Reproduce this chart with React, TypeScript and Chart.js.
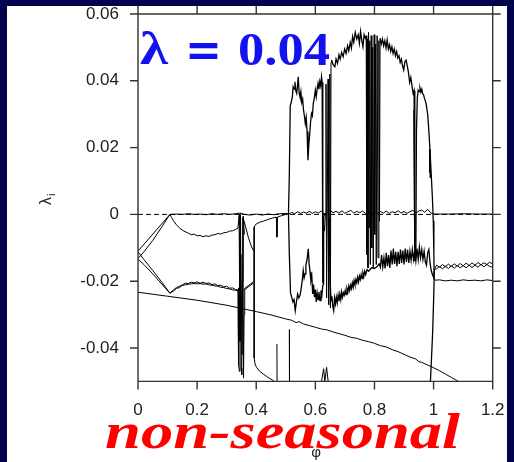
import React, { useEffect, useRef } from "react";
import { Chart, registerables } from "chart.js";

Chart.register(...registerables);

type Pt = [number, number];

// ---- axes ----
const xTicks = [0, 0.2, 0.4, 0.6, 0.8, 1.0, 1.2];
const xTickLabels = ["0", "0.2", "0.4", "0.6", "0.8", "1", "1.2"];
const yTicks = [-0.04, -0.02, 0, 0.02, 0.04, 0.06];
const yTickLabels = ["-0.04", "-0.02", "0", "0.02", "0.04", "0.06"];
const xRange = [0, 1.2];
const yRange = [-0.05, 0.06];

const titleText = "λ = 0.04";
const subtitleText = "non-seasonal";

// ---- series (phi, lambda_i) ----
const zeroRef: Pt[] = [[0, 0], [1.2, 0]];

const decayBranch: Pt[] = [
  [0, -0.0233], [0.1, -0.0245], [0.2, -0.0257], [0.3, -0.0272], [0.4, -0.0291], [0.45, -0.0301],
  [0.5, -0.0313], [0.52, -0.0317], [0.535, -0.0324], [0.545, -0.0321], [0.56, -0.0328], [0.58, -0.0333],
  [0.6, -0.0338], [0.62, -0.0343], [0.64, -0.0346], [0.66, -0.0352], [0.68, -0.0357], [0.7, -0.0362],
  [0.72, -0.0368], [0.74, -0.0371], [0.76, -0.0377], [0.78, -0.0381], [0.8, -0.0386], [0.82, -0.0393],
  [0.84, -0.0397], [0.86, -0.0405], [0.88, -0.0411], [0.9, -0.0419], [0.92, -0.0427], [0.94, -0.0433],
  [0.95, -0.0441], [0.96, -0.0443], [0.98, -0.0451], [1.0, -0.0459], [1.02, -0.0468], [1.04, -0.0478],
  [1.06, -0.0488], [1.08, -0.0498], [1.09, -0.0503],
];

const upperA: Pt[] = [[0, -0.0110], [0.108, 0]];
const upperB: Pt[] = [[0, -0.0132], [0.02, -0.0112], [0.05, -0.0078], [0.08, -0.0038], [0.108, 0]];
const lowerA: Pt[] = [[0, -0.0112], [0.02, -0.0135], [0.05, -0.0168], [0.08, -0.0202], [0.108, -0.0236]];
const lowerB: Pt[] = [[0, -0.0134], [0.02, -0.0150], [0.05, -0.0178], [0.08, -0.0208], [0.108, -0.0236]];

const dipBranch: Pt[] = [
  [0.108, 0], [0.114, -0.001], [0.12, -0.0019], [0.13, -0.0031], [0.142, -0.0042], [0.155, -0.005],
  [0.17, -0.0056], [0.18, -0.0061], [0.19, -0.0059], [0.2, -0.0064], [0.21, -0.0063], [0.22, -0.0067],
  [0.23, -0.0064], [0.24, -0.0066], [0.25, -0.0062], [0.26, -0.0061], [0.27, -0.0057], [0.28, -0.0059],
  [0.29, -0.0055], [0.3, -0.0054], [0.31, -0.005], [0.32, -0.0049], [0.33, -0.0045], [0.338, -0.0042],
  [0.342, -0.0005], [0.346, 0.0002],
];

const pairLowC: Pt[] = [
  [0.108, -0.0236], [0.12, -0.0226], [0.13, -0.0219], [0.14, -0.0215], [0.15, -0.0211], [0.16, -0.0206],
  [0.17, -0.0207], [0.18, -0.0203], [0.19, -0.0205], [0.2, -0.0202], [0.21, -0.0206], [0.22, -0.0203],
  [0.23, -0.0207], [0.24, -0.0205], [0.25, -0.021], [0.26, -0.0208], [0.27, -0.0213], [0.28, -0.0212],
  [0.29, -0.0217], [0.3, -0.0215], [0.31, -0.0221], [0.32, -0.022], [0.33, -0.0225], [0.339, -0.0226],
];
const pairLowD: Pt[] = [
  [0.108, -0.0236], [0.12, -0.0229], [0.13, -0.0222], [0.14, -0.0219], [0.15, -0.0213], [0.16, -0.0211],
  [0.17, -0.0209], [0.18, -0.0208], [0.19, -0.0207], [0.2, -0.0208], [0.21, -0.0207], [0.22, -0.0209],
  [0.23, -0.0208], [0.24, -0.0211], [0.25, -0.0212], [0.26, -0.0214], [0.27, -0.0215], [0.28, -0.0218],
  [0.29, -0.0219], [0.3, -0.0222], [0.31, -0.0223], [0.32, -0.0226], [0.33, -0.0227], [0.339, -0.0229],
];
const pairLowTailC: Pt[] = [[0.36, -0.0222], [0.375, -0.0212], [0.39, -0.0202]];
const pairLowTailD: Pt[] = [[0.36, -0.0226], [0.375, -0.0216], [0.39, -0.0206]];

const nearZero: Pt[] = [
  [0.108, 0], [0.13, 0.0001], [0.15, 0], [0.17, 0.0002], [0.19, 0], [0.21, 0.0001], [0.23, -0.0001],
  [0.25, 0.0002], [0.27, 0], [0.29, 0.0002], [0.31, 0], [0.33, 0.0002], [0.345, 0.0004], [0.36, 0],
  [0.38, -0.0002], [0.4, 0.0001], [0.42, -0.0002], [0.44, 0.0001], [0.46, -0.0001], [0.48, 0.0002],
  [0.5, 0.0003], [0.51, 0.0001], [0.52, 0.0006], [0.53, 0.0002], [0.54, 0.0008], [0.55, 0.0003],
  [0.56, 0.0007], [0.57, 0.0004], [0.58, 0.0009], [0.59, 0.0003], [0.6, 0.0008], [0.61, 0.0004],
  [0.62, 0.001], [0.63, 0.0002], [0.64, 0.0006], [0.65, 0.0012], [0.66, 0.0005], [0.67, 0.0009],
  [0.68, 0.0004], [0.69, 0.0011], [0.7, 0.0003], [0.71, 0.0008], [0.72, 0.0012], [0.73, 0.0004],
  [0.74, 0.0009], [0.75, 0.0005], [0.76, 0.001], [0.77, 0.0003], [0.78, 0.0006], [0.79, 0.0002],
  [0.8, 0.0007], [0.81, 0.0003], [0.82, 0.0009], [0.83, 0.0004], [0.84, 0.001], [0.85, 0.0003],
  [0.86, 0.0008], [0.87, 0.0005], [0.88, 0.0011], [0.89, 0.0004], [0.9, 0.0009], [0.91, 0.0003],
  [0.92, 0.0008], [0.93, 0.0012], [0.94, 0.0004], [0.95, 0.001], [0.96, 0.0013], [0.97, 0.0006],
  [0.98, 0.0015], [0.99, 0.0005], [1.0, 0.0001], [1.05, 0.0001], [1.1, 0.0002], [1.15, 0.0001], [1.2, 0.0001],
];

const spikeBundle1: Pt[] = [
  [0.338, -0.0226], [0.339, -0.035], [0.3395, -0.022], [0.341, -0.045], [0.343, -0.047], [0.345, -0.002],
  [0.347, 0], [0.349, -0.046], [0.351, -0.048], [0.353, -0.02], [0.355, -0.001], [0.357, -0.049],
  [0.359, -0.03], [0.361, -0.0222],
];
const spikeBundle2: Pt[] = [[0.342, 0], [0.345, -0.038], [0.348, -0.012], [0.352, -0.042], [0.356, -0.0005], [0.36, -0.006]];

const fallingBranch: Pt[] = [[0.356, -0.0012], [0.365, -0.004], [0.373, -0.0068], [0.382, -0.0092], [0.39, -0.0108]];

const dropCurve: Pt[] = [
  [0.393, -0.0038], [0.393, -0.043], [0.396, -0.0448], [0.401, -0.0458], [0.412, -0.047], [0.424, -0.0478],
  [0.44, -0.0488], [0.455, -0.0496], [0.466, -0.0503],
];

const riseToZero: Pt[] = [
  [0.393, -0.0038], [0.398, -0.003], [0.41, -0.0024], [0.425, -0.002], [0.44, -0.0015], [0.455, -0.0011],
  [0.468, -0.0008], [0.47, -0.0068], [0.472, -0.0008], [0.485, -0.0004], [0.5, 0], [0.51, 0.0003],
];

const spikeA: Pt[] = [[0.47, -0.0388], [0.4705, -0.0505]];
const spikeB: Pt[] = [[0.512, -0.0345], [0.5125, -0.0505]];
const bottomM: Pt[] = [[0.62, -0.0505], [0.628, -0.0462], [0.632, -0.05], [0.638, -0.0458], [0.644, -0.0505]];

const humpOne: Pt[] = [
  [0.509, 0.0003], [0.512, 0.012], [0.515, 0.0325], [0.519, 0.0338], [0.522, 0.0352], [0.525, 0.0382],
  [0.528, 0.0375], [0.531, 0.0397], [0.534, 0.037], [0.537, 0.0362], [0.54, 0.0388], [0.542, 0.0412],
  [0.545, 0.0365], [0.548, 0.0352], [0.551, 0.0368], [0.554, 0.0335], [0.557, 0.0345], [0.56, 0.0312],
  [0.563, 0.0295], [0.566, 0.0272], [0.569, 0.029], [0.572, 0.0248], [0.575, 0.0162], [0.578, 0.021],
  [0.581, 0.0242], [0.584, 0.0278], [0.587, 0.0302], [0.59, 0.0295], [0.593, 0.0332], [0.596, 0.0345],
  [0.6, 0.0372], [0.603, 0.0352], [0.606, 0.0375], [0.609, 0.0392], [0.612, 0.0375], [0.615, 0.0398],
  [0.618, 0.0385], [0.621, 0.0412], [0.623, 0.0395], [0.625, 0.0388], [0.6255, -0.0205],
];

const lowerOne: Pt[] = [
  [0.509, 0.0002], [0.512, -0.012], [0.516, -0.0235], [0.52, -0.0248], [0.524, -0.0262], [0.528, -0.0255],
  [0.532, -0.0288], [0.536, -0.0262], [0.54, -0.0238], [0.544, -0.025], [0.548, -0.0243], [0.552, -0.0222],
  [0.556, -0.0195], [0.559, -0.0168], [0.562, -0.019], [0.565, -0.0178], [0.568, -0.0152], [0.572, -0.0135],
  [0.576, -0.0103], [0.579, -0.0148], [0.582, -0.0172], [0.585, -0.0198], [0.588, -0.0185], [0.591, -0.0238],
  [0.594, -0.021], [0.597, -0.0248], [0.6, -0.0225], [0.603, -0.0262], [0.606, -0.0235], [0.609, -0.0255],
  [0.612, -0.0232], [0.616, -0.0258], [0.619, -0.0228], [0.622, -0.0242], [0.625, -0.0215], [0.627, -0.0208],
  [0.628, -0.001], [0.631, 0.0003],
];

const clusterTwo: Pt[] = [
  [0.6255, -0.0205], [0.628, -0.003], [0.631, -0.005], [0.634, 0], [0.636, 0.039], [0.638, -0.025],
  [0.64, -0.004], [0.643, 0.0405], [0.645, -0.027], [0.647, -0.002], [0.649, 0.042], [0.651, -0.028],
  [0.653, 0.0455], [0.655, 0.0462],
];

const humpTwo: Pt[] = [
  [0.655, 0.0462], [0.66, 0.0448], [0.666, 0.0442], [0.67, 0.0465], [0.675, 0.0452], [0.68, 0.0478],
  [0.684, 0.0465], [0.689, 0.0485], [0.694, 0.0472], [0.699, 0.0495], [0.704, 0.0482], [0.709, 0.0505],
  [0.713, 0.049], [0.718, 0.0515], [0.722, 0.0498], [0.726, 0.0532], [0.73, 0.0515], [0.735, 0.0545],
  [0.74, 0.0525], [0.745, 0.0538], [0.749, 0.0512], [0.753, 0.0548], [0.757, 0.0522], [0.761, 0.0502],
  [0.765, 0.0538], [0.769, 0.0528], [0.772, 0.0535],
];

const bundle: Pt[] = [
  [0.772, 0.0535], [0.774, -0.012], [0.776, 0.0525], [0.778, -0.016], [0.78, 0.0545], [0.782, -0.004],
  [0.784, 0.052], [0.786, -0.015], [0.789, 0.0535], [0.791, -0.01], [0.794, 0.05], [0.796, -0.016],
  [0.799, 0.0538], [0.801, -0.006], [0.804, 0.051], [0.806, -0.015], [0.809, 0.0535], [0.812, -0.013],
  [0.815, 0.052], [0.817, -0.002], [0.819, 0.0527],
];

const humpThree: Pt[] = [
  [0.819, 0.0527], [0.823, 0.051], [0.827, 0.0525], [0.831, 0.0505], [0.835, 0.052], [0.839, 0.0498],
  [0.843, 0.0522], [0.847, 0.0495], [0.851, 0.0508], [0.855, 0.0488], [0.859, 0.0502], [0.863, 0.0482],
  [0.867, 0.0495], [0.871, 0.0475], [0.875, 0.0488], [0.879, 0.0468], [0.883, 0.0475], [0.887, 0.0455],
  [0.891, 0.0465], [0.895, 0.0445], [0.899, 0.0432], [0.903, 0.0458], [0.907, 0.0462], [0.911, 0.0445],
  [0.915, 0.0425], [0.919, 0.0395], [0.923, 0.041], [0.927, 0.0385], [0.931, 0.0362], [0.934, 0.037],
  [0.936, 0.033], [0.937, -0.011],
];

const humpRight: Pt[] = [
  [0.937, -0.011], [0.94, -0.013], [0.942, 0.025], [0.945, 0.035], [0.948, 0.0372], [0.951, 0.0368],
  [0.954, 0.0378], [0.957, 0.0366], [0.96, 0.0375], [0.963, 0.0362], [0.966, 0.0358], [0.969, 0.0348],
  [0.972, 0.034], [0.975, 0.033], [0.98, 0.03], [0.984, 0.025], [0.988, 0.019], [0.992, 0.012],
  [0.996, 0.005], [0.999, -0.002], [1.001, -0.012], [1.002, -0.019], [1.0, -0.026], [0.997, -0.035],
  [0.993, -0.043], [0.989, -0.0505],
];
const spikeR: Pt[] = [[0.987, 0.0195], [0.9875, 0.0125], [0.988, 0.018], [0.989, 0.011]];
const thinR: Pt[] = [[0.933, 0.0312], [0.935, 0], [0.937, -0.014]];

const lowerTwo: Pt[] = [
  [0.647, -0.001], [0.65, -0.02], [0.653, -0.0258], [0.656, -0.0245], [0.659, -0.0275], [0.662, -0.0288],
  [0.665, -0.025], [0.668, -0.0268], [0.671, -0.0248], [0.674, -0.0265], [0.677, -0.0242], [0.68, -0.026],
  [0.683, -0.0238], [0.686, -0.0255], [0.689, -0.0232], [0.692, -0.0248], [0.695, -0.0235], [0.698, -0.0242],
  [0.701, -0.0228], [0.704, -0.024], [0.707, -0.0222], [0.71, -0.0232], [0.713, -0.0215], [0.716, -0.0228],
  [0.719, -0.0212], [0.722, -0.0222], [0.725, -0.0205], [0.728, -0.0218], [0.731, -0.0198], [0.734, -0.021],
  [0.737, -0.0195], [0.74, -0.0205], [0.743, -0.0188], [0.746, -0.0202], [0.749, -0.0185], [0.752, -0.0195],
  [0.755, -0.018], [0.758, -0.0192], [0.761, -0.0175], [0.764, -0.0185], [0.767, -0.017], [0.77, -0.018],
  [0.775, -0.0165], [0.78, -0.017], [0.79, -0.016], [0.8, -0.0162], [0.81, -0.0155], [0.816, -0.0148],
  [0.82, -0.0158], [0.824, -0.0122], [0.828, -0.0158], [0.832, -0.013], [0.836, -0.0162], [0.84, -0.0115],
  [0.844, -0.0155], [0.848, -0.0122], [0.852, -0.016], [0.856, -0.0108], [0.86, -0.015], [0.864, -0.0102],
  [0.868, -0.0148], [0.872, -0.0112], [0.876, -0.0155], [0.88, -0.0112], [0.884, -0.0148], [0.888, -0.0105],
  [0.892, -0.0145], [0.896, -0.0108], [0.9, -0.015], [0.904, -0.0102], [0.908, -0.0142], [0.912, -0.0105],
  [0.916, -0.0145], [0.92, -0.011], [0.924, -0.0138], [0.928, -0.0105], [0.932, -0.0135], [0.936, -0.011],
  [0.94, -0.014], [0.944, -0.0102], [0.948, -0.0135], [0.952, -0.0098], [0.956, -0.013], [0.96, -0.0105],
  [0.964, -0.0135], [0.968, -0.011], [0.972, -0.0142], [0.976, -0.0152], [0.98, -0.0115], [0.984, -0.0105],
  [0.988, -0.0145], [0.992, -0.0168], [0.996, -0.018], [1.0, -0.0188], [1.003, -0.0165],
];

const pairHighE: Pt[] = [
  [1.003, -0.0165], [1.01, -0.0152], [1.02, -0.0158], [1.03, -0.015], [1.04, -0.0157], [1.05, -0.0149],
  [1.06, -0.0156], [1.07, -0.0148], [1.08, -0.0155], [1.09, -0.0147], [1.1, -0.0154], [1.11, -0.0146],
  [1.12, -0.0153], [1.13, -0.0145], [1.14, -0.0152], [1.15, -0.0144], [1.16, -0.0151], [1.17, -0.0145],
  [1.18, -0.015], [1.19, -0.0143], [1.2, -0.0149],
];
const pairHighF: Pt[] = [
  [1.003, -0.0165], [1.01, -0.0163], [1.02, -0.0156], [1.03, -0.0163], [1.04, -0.0155], [1.05, -0.0162],
  [1.06, -0.0154], [1.07, -0.0161], [1.08, -0.0153], [1.09, -0.016], [1.1, -0.0153], [1.11, -0.016],
  [1.12, -0.0152], [1.13, -0.0159], [1.14, -0.0152], [1.15, -0.0158], [1.16, -0.015], [1.17, -0.0157],
  [1.18, -0.015], [1.19, -0.0156], [1.2, -0.0158],
];
const lowTail: Pt[] = [
  [1.0, -0.0188], [1.005, -0.0197], [1.02, -0.0196], [1.04, -0.0199], [1.06, -0.0197], [1.08, -0.0199],
  [1.1, -0.0196], [1.12, -0.0198], [1.14, -0.0197], [1.16, -0.0199], [1.18, -0.0196], [1.2, -0.0198],
];

const solidSeries: Pt[][] = [
  decayBranch, upperA, upperB, lowerA, lowerB, dipBranch, pairLowC, pairLowD, pairLowTailC, pairLowTailD,
  nearZero, spikeBundle1, spikeBundle2, fallingBranch, dropCurve, riseToZero, spikeA, spikeB, bottomM,
  humpOne, lowerOne, clusterTwo, humpTwo, bundle, humpThree, humpRight, spikeR, thinR, lowerTwo,
  pairHighE, pairHighF, lowTail,
];
// noisy curves drawn slightly heavier
const heavySeries = new Set<Pt[]>([humpOne, lowerOne, humpTwo, humpThree, humpRight, lowerTwo]);

const NAVY = "#03034d";
const AXIS = "#333333";

function drawFit(ctx: CanvasRenderingContext2D, text: string, font: string, left: number, right: number, baseline: number) {
  ctx.font = font;
  const w = ctx.measureText(text).width;
  ctx.save();
  ctx.translate(left, baseline);
  ctx.scale((right - left) / w, 1);
  ctx.textAlign = "left";
  ctx.textBaseline = "alphabetic";
  ctx.fillText(text, 0, 0);
  ctx.restore();
}

const backgroundPlugin = {
  id: "bgPanel",
  beforeDraw(chart: any) {
    const ctx = chart.ctx as CanvasRenderingContext2D;
    ctx.save();
    ctx.fillStyle = NAVY;
    ctx.fillRect(0, 0, chart.width, chart.height);
    ctx.fillStyle = "#ffffff";
    ctx.fillRect(7, 6, 500, chart.height - 6);
    ctx.restore();
  },
};

const framePlugin = {
  id: "frameAndText",
  afterDraw(chart: any) {
    const ctx = chart.ctx as CanvasRenderingContext2D;
    const { left, right, top, bottom } = chart.chartArea;
    const xs = chart.scales.x;
    const ys = chart.scales.y;
    ctx.save();
    ctx.strokeStyle = AXIS;
    ctx.lineWidth = 1.4;
    ctx.beginPath();
    ctx.moveTo(left, top); ctx.lineTo(right, top);
    ctx.moveTo(left, bottom); ctx.lineTo(right, bottom);
    ctx.moveTo(left, top); ctx.lineTo(left, bottom);
    ctx.moveTo(right, top); ctx.lineTo(right, bottom);
    for (const v of yTicks) {
      const y = ys.getPixelForValue(v);
      ctx.moveTo(left - 8, y); ctx.lineTo(left, y);
      ctx.moveTo(right, y); ctx.lineTo(right + 8, y);
    }
    for (const v of xTicks) {
      const x = xs.getPixelForValue(v);
      ctx.moveTo(x, top - 8); ctx.lineTo(x, top);
      ctx.moveTo(x, bottom); ctx.lineTo(x, bottom + 8);
    }
    ctx.stroke();

    // title inside plot
    ctx.fillStyle = "rgb(18,18,240)";
    drawFit(ctx, "λ", "bold 46px 'Liberation Serif'", 140, 168, 64);
    drawFit(ctx, "=", "bold 46px 'DejaVu Serif'", 185, 222, 66);
    drawFit(ctx, titleText.split("= ")[1], "bold 47px 'Liberation Serif'", 238, 330, 65);

    // y axis title
    ctx.fillStyle = "#222";
    ctx.save();
    ctx.translate(51, 200);
    ctx.rotate(-Math.PI / 2);
    ctx.textAlign = "left";
    ctx.textBaseline = "alphabetic";
    ctx.font = "16px 'Liberation Sans'";
    ctx.fillText("λ", -5, 0);
    ctx.font = "11px 'Liberation Sans'";
    ctx.fillText("i", 4, 4);
    ctx.restore();

    // subtitle
    ctx.fillStyle = "#ff0000";
    drawFit(ctx, subtitleText, "italic bold 50px 'Liberation Serif'", 105, 460, 448);

    // x axis title
    ctx.fillStyle = "#222";
    ctx.font = "15px 'Liberation Sans'";
    ctx.textAlign = "center";
    ctx.textBaseline = "alphabetic";
    ctx.fillText("φ", 316, 457);
    ctx.restore();
  },
};

export default function App() {
  const canvasRef = useRef<HTMLCanvasElement | null>(null);

  useEffect(() => {
    const canvas = canvasRef.current;
    if (!canvas) return;
    const datasets: any[] = [
      {
        data: zeroRef.map(([x, y]) => ({ x, y })),
        showLine: true,
        borderColor: "#000",
        borderWidth: 1,
        borderDash: [5, 3],
        pointRadius: 0,
        fill: false,
      },
      ...solidSeries.map((s) => ({
        data: s.map(([x, y]) => ({ x, y })),
        showLine: true,
        borderColor: "#000",
        borderWidth: heavySeries.has(s) ? 1.3 : 1,
        pointRadius: 0,
        fill: false,
        tension: 0,
      })),
    ];
    const chart = new Chart(canvas, {
      type: "scatter",
      data: { datasets },
      options: {
        animation: false,
        responsive: false,
        devicePixelRatio: 1,
        events: [],
        layout: { padding: { left: 0, top: 14, right: 21.3, bottom: 0 } },
        plugins: { legend: { display: false }, tooltip: { enabled: false } },
        scales: {
          x: {
            type: "linear",
            min: xRange[0],
            max: xRange[1],
            grid: { display: false, drawTicks: false },
            border: { display: false },
            afterBuildTicks: (s: any) => {
              s.ticks = xTicks.map((v) => ({ value: v }));
            },
            afterFit: (s: any) => {
              s.height = 80.6;
              s.paddingLeft = 0;
              s.paddingRight = 0;
              s.paddingTop = 0;
              s.paddingBottom = 0;
            },
            ticks: {
              padding: 19,
              color: "#222",
              font: { family: "'Liberation Sans'", size: 17 },
              maxRotation: 0,
              callback: (_v: any, i: number) => xTickLabels[i],
            },
          },
          y: {
            type: "linear",
            min: yRange[0],
            max: yRange[1],
            grid: { display: false, drawTicks: false },
            border: { display: false },
            afterBuildTicks: (s: any) => {
              s.ticks = yTicks.map((v) => ({ value: v }));
            },
            afterFit: (s: any) => {
              s.width = 138;
              s.paddingLeft = 0;
              s.paddingRight = 0;
              s.paddingTop = 0;
              s.paddingBottom = 0;
            },
            ticks: {
              padding: 19,
              color: "#222",
              font: { family: "'Liberation Sans'", size: 17 },
              callback: (_v: any, i: number) => yTickLabels[i],
            },
          },
        },
      } as any,
      plugins: [backgroundPlugin, framePlugin],
    });
    return () => chart.destroy();
  }, []);

  return (
    <div style={{ position: "fixed", left: 0, top: 0, width: 514, height: 462 }}>
      <canvas ref={canvasRef} width={514} height={462} style={{ display: "block", width: 514, height: 462 }} />
    </div>
  );
}
